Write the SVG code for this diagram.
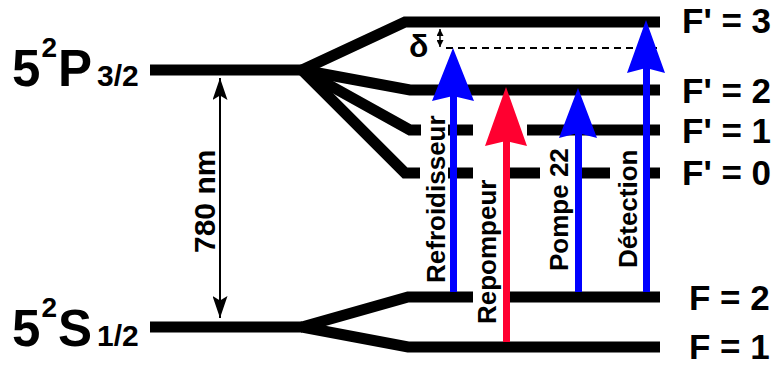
<svg xmlns="http://www.w3.org/2000/svg" width="778" height="365" viewBox="0 0 778 365">
<style>
.lvl{fill:none;stroke:#000;stroke-width:11;stroke-linejoin:miter;stroke-miterlimit:10}
.t{font-family:"Liberation Sans",Arial,sans-serif;font-weight:bold;fill:#000}
.big{font-size:51px}
.sup{font-size:28px}
.sm{font-size:30px}
.lab{font-size:35px}
.rot{font-size:26px}
.blue{fill:#0000ff}
.red{fill:#ff0030}
</style>
<defs>
<marker id="ah" viewBox="0 0 10 10" refX="10" refY="5" markerWidth="22" markerHeight="15" markerUnits="userSpaceOnUse" orient="auto-start-reverse" preserveAspectRatio="none">
<path d="M0,0 L10,5 L0,10 L2,5 z" fill="#000"/>
</marker>
<marker id="ahs" viewBox="0 0 10 10" refX="10" refY="5" markerWidth="7" markerHeight="7" markerUnits="userSpaceOnUse" orient="auto-start-reverse">
<path d="M0,0 L10,5 L0,10 z" fill="#000"/>
</marker>
</defs>

<g id="level-5P32">
<path class="lvl" d="M150,70 H302"/>
<text class="t big" x="12" y="86">5</text>
<text class="t sup" x="41.5" y="57">2</text>
<text class="t big" x="58" y="86">P</text>
<text class="t sm" x="97" y="86">3/2</text>
</g>

<g id="level-Fp3">
<path class="lvl" d="M302,70 L405,22 H660"/>
<text class="t lab" x="682" y="33">F' = 3</text>
</g>
<g id="level-Fp2">
<path class="lvl" d="M302,70 L410,90 H660"/>
<text class="t lab" x="682" y="103">F' = 2</text>
</g>
<g id="level-Fp1">
<path class="lvl" d="M302,70 L410,130 H421"/>
<path class="lvl" d="M448,130 H473 M527,130 H660"/>
<text class="t lab" x="682" y="143">F' = 1</text>
</g>
<g id="level-Fp0">
<path class="lvl" d="M302,70 L405,173 H420"/>
<path class="lvl" d="M448,173 H473 M503,173 H540 M575,173 H610 M643,173 H660"/>
<text class="t lab" x="682" y="185">F' = 0</text>
</g>

<g id="level-5S12">
<path class="lvl" d="M150,327 H302"/>
<text class="t big" x="12" y="346">5</text>
<text class="t sup" x="41.5" y="317">2</text>
<text class="t big" x="58" y="346">S</text>
<text class="t sm" x="97" y="346">1/2</text>
</g>
<g id="level-F2">
<path class="lvl" d="M302,327 L408,297 H473 M503,297 H660"/>
<text class="t lab" x="689" y="310">F = 2</text>
</g>
<g id="level-F1">
<path class="lvl" d="M302,327 L408,347 H660"/>
<text class="t lab" x="689" y="359">F = 1</text>
</g>

<g id="connectors">
<line x1="220" y1="78" x2="220" y2="318" stroke="#000" stroke-width="2" marker-start="url(#ah)" marker-end="url(#ah)"/>
<line x1="440" y1="29" x2="440" y2="47" stroke="#000" stroke-width="1.5" marker-start="url(#ahs)" marker-end="url(#ahs)"/>
<line x1="446" y1="48" x2="660" y2="48" stroke="#000" stroke-width="1.8" stroke-dasharray="7,5"/>
</g>

<g id="label-780">
<text class="t" font-size="30" transform="translate(215,253) rotate(-90)">780 nm</text>
</g>
<g id="label-delta">
<text class="t" font-size="32" x="409" y="57">δ</text>
</g>

<g id="beam-refroidisseur">
<rect class="blue" x="450" y="95" width="7" height="197"/>
<polygon class="blue" points="453,48 474,101 453,96 432,101"/>
<text class="t rot" transform="translate(445,283) rotate(-90)">Refroidisseur</text>
</g>
<g id="beam-repompeur">
<rect class="red" x="503" y="140" width="7" height="202"/>
<polygon class="red" points="506,87 527,146 506,141 485,146"/>
<text class="t rot" transform="translate(496,324) rotate(-90)">Repompeur</text>
</g>
<g id="beam-pompe22">
<rect class="blue" x="575" y="132" width="7" height="160"/>
<polygon class="blue" points="578,88 597,138 578,133 559,138"/>
<text class="t rot" transform="translate(568,271) rotate(-90)">Pompe 22</text>
</g>
<g id="beam-detection">
<rect class="blue" x="643" y="67" width="7" height="225"/>
<polygon class="blue" points="646,20 665,73 646,68 627,73"/>
<text class="t rot" transform="translate(637,268) rotate(-90)">Détection</text>
</g>
</svg>
